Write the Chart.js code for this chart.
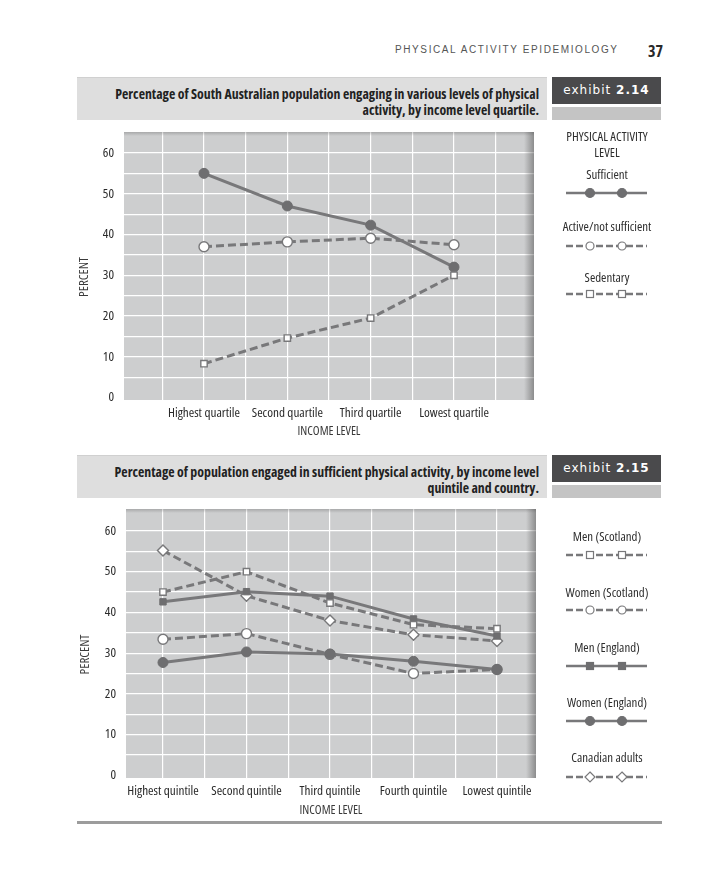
<!DOCTYPE html>
<html>
<head>
<meta charset="utf-8">
<script src="https://cdn.jsdelivr.net/npm/chart.js@4.4.1/dist/chart.umd.min.js"></script>
<style>
  html, body { margin:0; padding:0; background:#fff; }
  body { width:707px; height:896px; position:relative; overflow:hidden; color:#333; }
  .abs { position:absolute; }
  #runhead { left:395px; top:44px; font-family:'Liberation Sans',Arial,sans-serif; font-size:10px; letter-spacing:1.6px; color:#555; white-space:nowrap; }
  #pagenum { left:648px; top:40px; font-weight:bold; color:#2a2a2a; }
  .band { left:77px; width:470px; height:43px; background:#dedede; box-sizing:border-box; padding:8px 8px 0 0;
          text-align:right; font-weight:bold; line-height:15.5px; color:#222; border-top:1px solid #d0d0d0; }
  .band span { display:block; white-space:nowrap; }
  .exh { left:552px; width:109px; height:27px; background:#4a4a4c; color:#fff; font-family:'DejaVu Sans',sans-serif;
         font-size:12px; letter-spacing:1px; text-align:center; line-height:27px; }
  .exh b { font-weight:bold; }
  .strip { left:552px; width:109px; height:13px; background:#c4c4c4; }
  .leg { width:120px; left:547px; text-align:center; color:#2e2e2e; line-height:15.5px; white-space:nowrap; }
  canvas { position:absolute; left:0; }
  #rule { left:77px; top:821px; width:585px; height:3px; background:#9c9c9c; }
</style>
</head>
<body>
<div id="runhead" class="abs">PHYSICAL ACTIVITY EPIDEMIOLOGY</div>
<div id="pagenum" class="abs nar">37</div>

<div class="abs band nar" style="top:77px"><span>Percentage of South Australian population engaging in various levels of physical</span><span>activity, by income level quartile.</span></div>
<div class="abs exh" style="top:77px">exhibit <b>2.14</b></div>
<div class="abs strip" style="top:107px"></div>

<canvas id="c1" width="550" height="325" style="top:120px"></canvas>

<div class="abs leg nar" style="top:129px">PHYSICAL ACTIVITY<br>LEVEL</div>
<div class="abs leg nar" style="top:167px">Sufficient</div>
<div class="abs leg nar" style="top:219px">Active/not sufficient</div>
<div class="abs leg nar" style="top:270px">Sedentary</div>
<div id="legend1"></div>

<div class="abs band nar" style="top:455px"><span>Percentage of population engaged in sufficient physical activity, by income level</span><span>quintile and country.</span></div>
<div class="abs exh" style="top:455px">exhibit <b>2.15</b></div>
<div class="abs strip" style="top:485px"></div>

<canvas id="c2" width="550" height="325" style="top:500px"></canvas>

<div class="abs leg nar" style="top:529px">Men (Scotland)</div>
<div class="abs leg nar" style="top:585px">Women (Scotland)</div>
<div class="abs leg nar" style="top:640px">Men (England)</div>
<div class="abs leg nar" style="top:695px">Women (England)</div>
<div class="abs leg nar" style="top:750px">Canadian adults</div>
<div id="legend2"></div>

<div id="rule" class="abs"></div>

<script>
// ---------- data ----------
const quartileLabels = ['Highest quartile', 'Second quartile', 'Third quartile', 'Lowest quartile'];
const sufficient = [55, 47, 42.3, 32];
const activeNotSufficient = [37, 38.2, 39.1, 37.5];
const sedentary = [8.3, 14.6, 19.5, 30];

const quintileLabels = ['Highest quintile', 'Second quintile', 'Third quintile', 'Fourth quintile', 'Lowest quintile'];
const menScotland = [45, 50, 42.3, 37, 36];
const womenScotland = [33.4, 34.8, 29.7, 25, 26];
const menEngland = [42.6, 45.1, 44, 38.4, 34.2];
const womenEngland = [27.7, 30.3, 29.8, 28, 26];
const canadianAdults = [55.2, 44.1, 38, 34.5, 33];

const yTickValues = [0, 10, 20, 30, 40, 50, 60];

// ---------- pick a condensed font that is installed ----------
const mctx = document.createElement('canvas').getContext('2d');
function widthOf(text, size, fam, extra) {
  mctx.font = `${extra ? extra + ' ' : ''}${size}px ${fam}`;
  return mctx.measureText(text).width;
}
let FAM = "'Liberation Sans'", STRETCH = '';
for (const fam of ["'Noto Sans'", "'Open Sans'", "Roboto", "Lato", "Inter"]) {
  const w0 = widthOf('Highest quartile Second', 12, fam, '');
  const w1 = widthOf('Highest quartile Second', 12, fam, 'condensed');
  if (w1 < w0 * 0.9) { FAM = fam; STRETCH = 'condensed'; break; }
}
function fit(text, target, bold) {
  const ex = [bold ? 'bold' : '', STRETCH].filter(Boolean).join(' ');
  const w = widthOf(text, 12, FAM, ex);
  return Math.round(12 * target / w * 10) / 10;
}
const TICK_SIZE = Math.min(14, fit('Highest quartile', 72));
const LEG_SIZE = Math.min(14, fit('Active/not sufficient', 89));
const XT_SIZE = Math.min(13, fit('INCOME LEVEL', 63));
const YT_SIZE = Math.min(13, fit('PERCENT', 43));
const BAND_SIZE = Math.min(14.5, fit('Percentage of South Australian population engaging in various levels of physical', 424, true));
const NUM_SIZE = STRETCH ? 16 : 14;

document.querySelectorAll('.nar').forEach(el => { el.style.fontFamily = FAM; el.style.fontStretch = STRETCH || 'normal'; });
document.querySelectorAll('.leg').forEach(el => { el.style.fontSize = LEG_SIZE + 'px'; });
document.querySelectorAll('.band').forEach(el => { el.style.fontSize = BAND_SIZE + 'px'; });
document.getElementById('pagenum').style.fontSize = NUM_SIZE + 'px';

const W_NORMAL = STRETCH ? 'condensed' : undefined;

// ---------- styling ----------
const LINE = '#78787a';
const FILL = '#6e6e70';
const PLOT_BG = '#cdcecf';
const TEXT = '#2a2a2a';
const DASH = [8, 4];

function pts(arr) { return arr.map((v, i) => ({ x: i, y: v })); }

const plotBg = {
  id: 'plotBg',
  beforeDraw(chart) {
    const { ctx, chartArea: a } = chart;
    ctx.save();
    ctx.fillStyle = PLOT_BG;
    ctx.fillRect(a.left, a.top, a.right - a.left, a.bottom - a.top);
    ctx.restore();
  },
  beforeDatasetsDraw(chart) {
    const { ctx, chartArea: a } = chart;
    ctx.save();
    const g = ctx.createLinearGradient(a.right - 10, 0, a.right, 0);
    g.addColorStop(0, 'rgba(60,60,60,0)');
    g.addColorStop(1, 'rgba(60,60,60,0.45)');
    ctx.fillStyle = g;
    ctx.fillRect(a.right - 10, a.top, 10, a.bottom - a.top);
    const g2 = ctx.createLinearGradient(0, a.top, 0, a.top + 4);
    g2.addColorStop(0, 'rgba(60,60,60,0.25)');
    g2.addColorStop(1, 'rgba(60,60,60,0)');
    ctx.fillStyle = g2;
    ctx.fillRect(a.left, a.top, a.right - a.left, 4);
    ctx.restore();
  }
};

const yTitle = {
  id: 'yTitle',
  afterDraw(chart, args, opts) {
    const { ctx, chartArea: a } = chart;
    ctx.save();
    ctx.translate(opts.x, (a.top + a.bottom) / 2 + opts.dy);
    ctx.rotate(-Math.PI / 2);
    ctx.font = `${STRETCH ? STRETCH + ' ' : ''}${YT_SIZE}px ${FAM}`;
    ctx.fillStyle = '#3a3a3a';
    ctx.textAlign = 'center';
    ctx.textBaseline = 'middle';
    ctx.fillText(opts.text, 0, 0);
    ctx.restore();
  }
};

function makeChart(id, labels, datasets, geom) {
  const xGrid = [];
  for (let v = -0.5; v <= labels.length - 0.5 + 1e-9; v += 0.5) xGrid.push(v);
  const yGrid = [];
  for (let v = 0; v <= 60; v += 5) yGrid.push(v);
  return new Chart(document.getElementById(id), {
    type: 'line',
    data: { datasets },
    options: {
      responsive: false,
      animation: false,
      layout: { padding: { left: geom.padLeft, top: geom.padTop, right: geom.padRight, bottom: 0 } },
      plugins: {
        legend: { display: false },
        tooltip: { enabled: false },
        yTitle: { text: 'PERCENT', x: geom.titleX, dy: geom.titleDy }
      },
      scales: {
        x: {
          type: 'linear',
          min: geom.xMin, max: geom.xMax,
          afterBuildTicks: s => { s.ticks = xGrid.map(v => ({ value: v })); },
          afterFit: s => { s.height = geom.xHeight; s.paddingLeft = 0; s.paddingRight = 0; },
          grid: { color: '#ffffff', lineWidth: 1.2, drawTicks: false },
          border: { display: false },
          ticks: {
            autoSkip: false, maxRotation: 0, padding: geom.xTickPad,
            color: TEXT, font: { family: FAM, size: TICK_SIZE, weight: W_NORMAL },
            callback: v => (Number.isInteger(v) && v >= 0 && v < labels.length) ? labels[v] : ''
          },
          title: { display: true, text: 'INCOME LEVEL', color: '#3a3a3a',
                   font: { family: FAM, size: XT_SIZE, weight: W_NORMAL }, padding: { top: 0, bottom: geom.xTitlePad } }
        },
        y: {
          type: 'linear',
          min: geom.yMin, max: geom.yMax,
          afterBuildTicks: s => { s.ticks = yGrid.map(v => ({ value: v })); },
          afterFit: s => { s.width = geom.yWidth; s.paddingTop = 0; s.paddingBottom = 0; },
          grid: { color: c => (c.tick && c.tick.value > 0) ? '#ffffff' : 'rgba(0,0,0,0)',
                  lineWidth: 1.2, drawTicks: false },
          border: { display: false },
          ticks: {
            autoSkip: false, padding: 10,
            color: TEXT, font: { family: FAM, size: TICK_SIZE, weight: W_NORMAL },
            callback: v => yTickValues.includes(v) ? String(v) : ''
          }
        }
      }
    },
    plugins: [plotBg, yTitle]
  });
}

function solid(label, data, style, r) {
  return { label, data: pts(data), borderColor: LINE, borderWidth: 3, pointStyle: style, pointRadius: r,
           pointBackgroundColor: FILL, pointBorderColor: FILL, pointBorderWidth: 1, tension: 0, clip: false };
}
function dashed(label, data, style, r) {
  return { label, data: pts(data), borderColor: LINE, borderWidth: 3, borderDash: DASH, pointStyle: style, pointRadius: r,
           pointBackgroundColor: '#ffffff', pointBorderColor: LINE, pointBorderWidth: 1.4, tension: 0, clip: false };
}

makeChart('c1', quartileLabels, [
  dashed('Sedentary', sedentary, 'rect', 4.5),
  solid('Sufficient', sufficient, 'circle', 5),
  dashed('Active/not sufficient', activeNotSufficient, 'circle', 5)
], { padLeft: 60, padTop: 12, padRight: 16, yWidth: 64, xHeight: 45, xMin: -0.96, xMax: 3.96,
     yMin: -0.6, yMax: 65.15, xTickPad: 5, xTitlePad: 6, titleX: 84, titleDy: 11 });

makeChart('c2', quintileLabels, [
  dashed('Men (Scotland)', menScotland, 'rect', 4.5),
  solid('Men (England)', menEngland, 'rect', 4.5),
  dashed('Canadian adults', canadianAdults, 'rectRot', 5.5),
  solid('Women (England)', womenEngland, 'circle', 5),
  dashed('Women (Scotland)', womenScotland, 'circle', 5)
], { padLeft: 60, padTop: 9, padRight: 14, yWidth: 66, xHeight: 47, xMin: -0.443, xMax: 4.467,
     yMin: -0.66, yMax: 65.4, xTickPad: 5, xTitlePad: 7, titleX: 85, titleDy: 11 });

// ---------- legend samples (small SVGs) ----------
function sample(parentId, top, isDashed, marker, filled) {
  const ns = 'http://www.w3.org/2000/svg';
  const svg = document.createElementNS(ns, 'svg');
  svg.setAttribute('width', '82'); svg.setAttribute('height', '14');
  svg.style.position = 'absolute'; svg.style.left = '566px'; svg.style.top = (top - 7) + 'px';
  const ln = document.createElementNS(ns, 'line');
  ln.setAttribute('x1', 0); ln.setAttribute('x2', 81); ln.setAttribute('y1', 7); ln.setAttribute('y2', 7);
  ln.setAttribute('stroke', LINE); ln.setAttribute('stroke-width', 2.5);
  if (isDashed) ln.setAttribute('stroke-dasharray', '7 3');
  svg.appendChild(ln);
  [24, 56].forEach(cx => {
    let m;
    if (marker === 'circle') {
      m = document.createElementNS(ns, 'circle');
      m.setAttribute('cx', cx); m.setAttribute('cy', 7); m.setAttribute('r', filled ? 4.5 : 4);
    } else if (marker === 'rect') {
      m = document.createElementNS(ns, 'rect');
      m.setAttribute('x', cx - 3.5); m.setAttribute('y', 3.5); m.setAttribute('width', 7); m.setAttribute('height', 7);
    } else {
      m = document.createElementNS(ns, 'polygon');
      m.setAttribute('points', `${cx},2 ${cx+5},7 ${cx},12 ${cx-5},7`);
    }
    m.setAttribute('fill', filled ? FILL : '#ffffff');
    m.setAttribute('stroke', filled ? FILL : LINE);
    m.setAttribute('stroke-width', 1.2);
    svg.appendChild(m);
  });
  document.getElementById(parentId).appendChild(svg);
}
sample('legend1', 193, false, 'circle', true);
sample('legend1', 246, true, 'circle', false);
sample('legend1', 294, true, 'rect', false);
sample('legend2', 555, true, 'rect', false);
sample('legend2', 610, true, 'circle', false);
sample('legend2', 666, false, 'rect', true);
sample('legend2', 721, false, 'circle', true);
sample('legend2', 777, true, 'diamond', false);
</script>
</body>
</html>
